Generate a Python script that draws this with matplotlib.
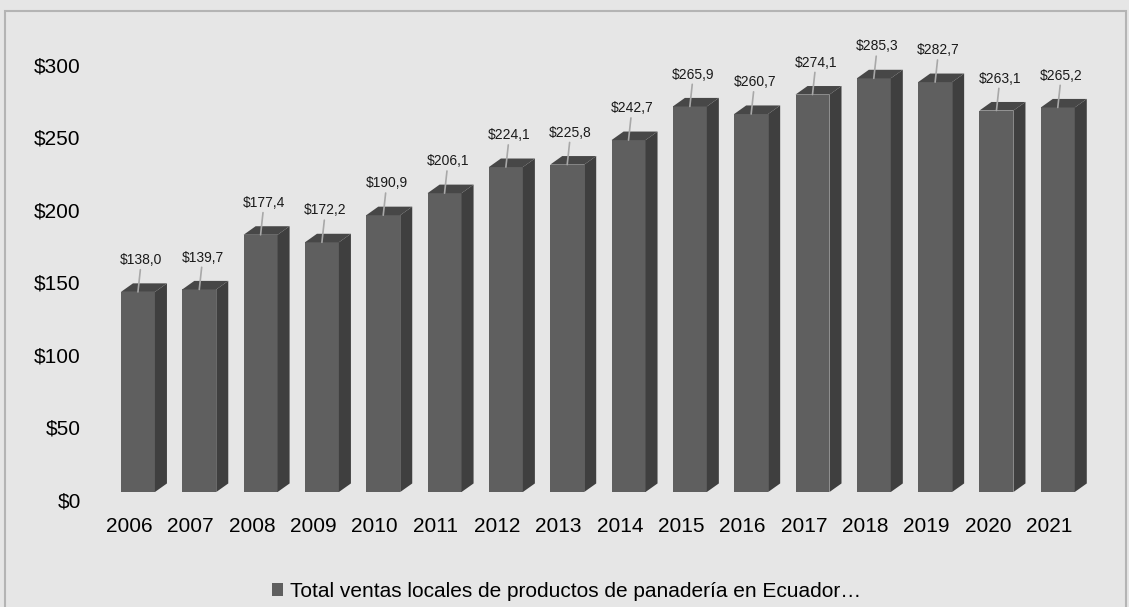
import numpy as np
import matplotlib
matplotlib.use('Agg')
import matplotlib.pyplot as plt
from matplotlib.patches import Polygon, Patch, Rectangle

plt.rcParams['font.family'] = ['Liberation Sans', 'DejaVu Sans']

# ventas locales de productos de panaderia (millones USD)
years = ['2006', '2007', '2008', '2009', '2010', '2011', '2012', '2013',
         '2014', '2015', '2016', '2017', '2018', '2019', '2020', '2021']
ventas = [138.0, 139.7, 177.4, 172.2, 190.9, 206.1, 224.1, 225.8,
          242.7, 265.9, 260.7, 274.1, 285.3, 282.7, 263.1, 265.2]
yticks = [0, 50, 100, 150, 200, 250, 300]
serie = 'Total ventas locales de productos de panadería en Ecuador…'

bg = '#e6e6e6'
c_front = '#5f5f5f'
c_side = '#3f3f3f'
c_top = '#474747'

fig = plt.figure(figsize=(11.29, 6.07), dpi=100, facecolor=bg)
ax = fig.add_axes([0.0733, 0.1763, 0.9125, 0.7644])
ax.set_facecolor(bg)

x = np.arange(len(years))
w = 0.554      # ancho cara frontal
dx = 0.196     # profundidad 3D en x
dy = 5.9       # profundidad 3D en y
floor = 5.5    # base de la cara frontal

ax.bar(x, ventas, width=w, bottom=floor, color=c_front, zorder=2)
for xi, v in zip(x, ventas):
    r = xi + w / 2
    l = xi - w / 2
    side = Polygon([(r, floor), (r + dx, floor + dy), (r + dx, floor + v + dy), (r, floor + v)],
                   closed=True, facecolor=c_side, edgecolor='none', zorder=2)
    top = Polygon([(l, floor + v), (l + dx, floor + v + dy), (r + dx, floor + v + dy), (r, floor + v)],
                  closed=True, facecolor=c_top, edgecolor='none', zorder=2)
    ax.add_patch(side)
    ax.add_patch(top)
    etiqueta = '$' + ('%.1f' % v).replace('.', ',')
    ax.annotate(etiqueta, xy=(xi, floor + v), xytext=(2.5, 23), textcoords='offset points',
                ha='center', va='center', fontsize=10, color='#1a1a1a',
                arrowprops=dict(arrowstyle='-', color='#a8a8a8', lw=1.2, shrinkA=0, shrinkB=0),
                zorder=3)

ax.set_xlim(-0.9, 15.9)
ax.set_ylim(0, 320)
ax.set_yticks(yticks)
ax.set_yticklabels(['$%d' % t for t in yticks])
ax.set_xticks(x - 0.14)
ax.set_xticklabels(years)
ax.tick_params(axis='y', length=0, pad=1.5, labelsize=15)
ax.tick_params(axis='x', length=0, pad=12, labelsize=15)
for s in ax.spines.values():
    s.set_visible(False)

# marco del grafico
fig.patches.append(Rectangle((5 / 1129, -0.01), 1121 / 1129, (607 - 11) / 607 + 0.01,
                             transform=fig.transFigure, fill=False,
                             edgecolor='#b4b4b4', lw=1.5))

fig.legend(handles=[Patch(facecolor=c_front, label=serie)], loc='center',
           bbox_to_anchor=(0.502, 0.026), frameon=False, fontsize=15,
           handlelength=0.55, handleheight=0.55, handletextpad=0.33)

fig.savefig('out.png', dpi=100, facecolor=bg)
